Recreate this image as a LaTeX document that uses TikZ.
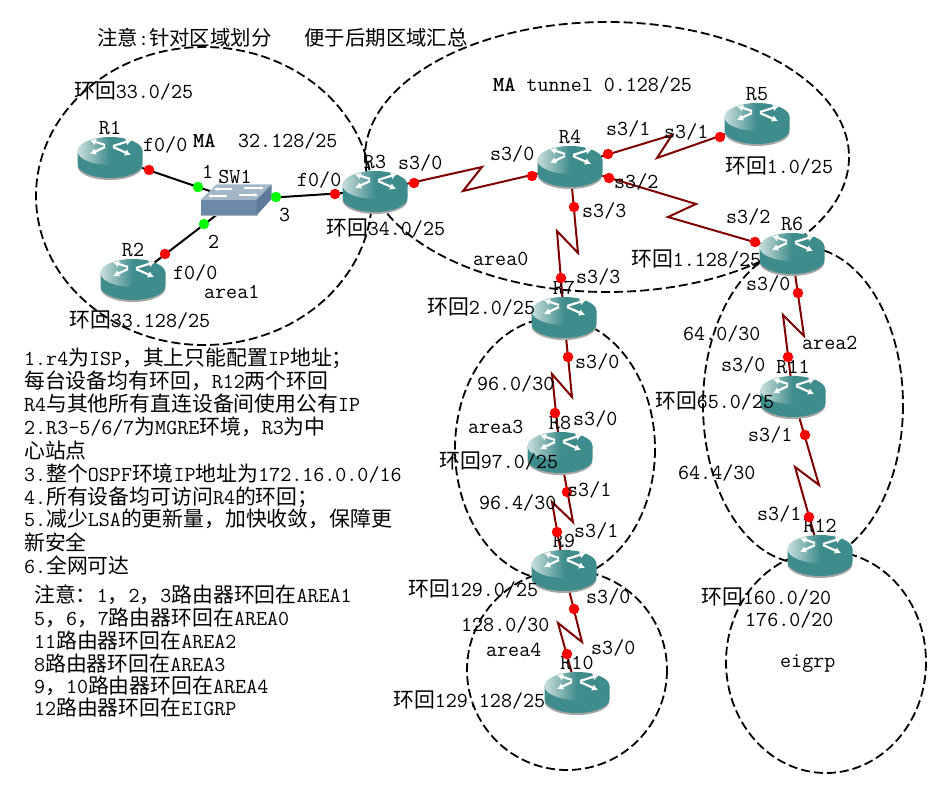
\documentclass[tikz,border=0pt]{standalone}
\usepackage{fontspec}
\newfontfamily\cjk{Noto Sans CJK SC}
\usetikzlibrary{backgrounds,arrows.meta}
\newcommand{\cn}[1]{{\cjk\fontsize{20.85}{22}\selectfont #1}}
\newcommand{\cntitle}[1]{{\cjk\fontsize{20.4}{22}\selectfont #1}}
\definecolor{routerteal}{HTML}{3E8C8B}
\definecolor{routerlight}{HTML}{C8DEDD}
\definecolor{linkred}{HTML}{800000}
\definecolor{switchfront}{HTML}{6C88AA}
\definecolor{switchtop}{HTML}{A3B7C9}
\definecolor{switchside}{HTML}{5F7A98}
\tikzset{
  lab/.style={anchor=west,inner sep=0pt,font=\ttfamily\fontsize{21.4}{22}\selectfont},
  lanlink/.style={line width=2pt,black},
  wanlink/.style={line width=2pt,linkred},
  area/.style={line width=1.8pt,dash pattern=on 9pt off 4pt},
  reddot/.style={circle,fill=red,inner sep=0pt,minimum size=10.5pt},
  greendot/.style={circle,fill=green,inner sep=0pt,minimum size=10.5pt},
  arr/.style={white,line width=2.2pt,-{Latex[length=6pt,width=7pt]}},
  router/.style={inner sep=0pt,minimum width=66pt,minimum height=45pt,path picture={
    \begin{scope}[shift={(path picture bounding box.center)}]
      \fill[black!35] (-32.5,9) arc[start angle=180,end angle=0,x radius=32.5,y radius=14] -- cycle;
      \fill[routerteal] (-32.5,-6) -- (-32.5,7) arc[start angle=180,end angle=0,x radius=32.5,y radius=14] -- (32.5,-6) -- cycle;
      \shade[left color=routerlight,right color=routerteal,middle color=routerteal] (0,-6) ellipse[x radius=32.5,y radius=14];
      \draw[arr] (-5,-12) -- (-20,-17);
      \draw[arr] (3,-11) -- (22,-17);
      \draw[arr] (-5,-10) -- (-20,-3);
      \draw[arr] (3,-10) -- (21,-2);
    \end{scope}}},
  switchbox/.style={inner sep=0pt,minimum width=72pt,minimum height=32pt,path picture={
    \begin{scope}[shift={(path picture bounding box.center)}]
      \fill[black!30] (-35.5,15.5) rectangle (21.5,16.5);
      \fill[switchtop] (-35.5,0) -- (-19.5,-15.5) -- (35.5,-15.5) -- (20.5,0) -- cycle;
      \fill[switchfront] (-35.5,0) rectangle (20.5,15.5);
      \fill[switchside] (20.5,0) -- (35.5,-15.5) -- (35.5,-1) -- (20.5,15.5) -- cycle;
      \draw[white,line width=1.4pt,-{Latex[length=3.5pt,width=4pt]}] (-4,-11) -- (-22,-11);
      \draw[white,line width=1.4pt,-{Latex[length=3.5pt,width=4pt]}] (-9,-4) -- (-28,-4);
      \draw[white,line width=1.4pt,-{Latex[length=3.5pt,width=4pt]}] (8,-12) -- (28,-12);
      \draw[white,line width=1.4pt,-{Latex[length=3.5pt,width=4pt]}] (3,-5) -- (22,-5);
    \end{scope}}}
}
\begin{document}
\begin{tikzpicture}[x=1pt,y=-1pt]
\path[use as bounding box] (0,0) rectangle (947,791);
\foreach \name/\x/\y in {R1/110/157,R2/133/279,R3/375/191,R4/570/166,R5/757/123,R6/792/253,R7/564/317,R8/560/452,R9/564/570,R10/577/692,R11/793/396,R12/820/555} {
  \node[router] (\name) at (\x,\y) {};
  \node[lab,anchor=center] (\name-txt) at (\x,\y-29) {\name};
}
\node[switchbox] (SW1) at (236,200) {};
\node[lab,anchor=center] (SW1-txt) at (235,177) {SW1};
\begin{scope}[on background layer]
  \fill[white] (0,0) rectangle (947,791);
  \draw[area] (204,196) ellipse[x radius=168,y radius=149];
  \draw[area] (607,157) ellipse[x radius=242,y radius=135];
  \draw[area] (555,449) ellipse[x radius=100,y radius=131];
  \draw[area] (803,405) ellipse[x radius=100,y radius=158];
  \draw[area] (567,670) ellipse[x radius=100,y radius=100];
  \draw[area] (826,662) ellipse[x radius=100,y radius=111];
  \draw[lanlink] (R1.center) -- (SW1.center);
  \draw[lanlink] (R2.center) -- (SW1.center);
  \draw[lanlink] (SW1.center) -- (R3.center);
  \draw[wanlink] (R3.center) -- (482,167) -- (463,191) -- (R4.center);
  \draw[wanlink] (R4.center) -- (672,135) -- (657,158) -- (R5.center);
  \draw[wanlink] (R4.center) -- (696,204) -- (668,217) -- (R6.center);
  \draw[wanlink] (R4.center) -- (578,253) -- (557,231) -- (R7.center);
  \draw[wanlink] (R6.center) -- (804,336) -- (783,315) -- (R11.center);
  \draw[wanlink] (R7.center) -- (572,397) -- (552,374) -- (R8.center);
  \draw[wanlink] (R8.center) -- (573,522) -- (552,502) -- (R9.center);
  \draw[wanlink] (R9.center) -- (582,642) -- (558,623) -- (R10.center);
  \draw[wanlink] (R11.center) -- (819,485) -- (795,467) -- (R12.center);
\end{scope}
\foreach \x/\y [count=\i] in {198/187,204/224,276/197} {
  \node[greendot] (g\i) at (\x,\y) {};
}
\foreach \x/\y [count=\i] in {149/170,165/254,335/194,414/183,532/176,608/154,720/137,609/178,755/242,574/207,561/278,798/293,788/357,568/357,555/413,567/492,557/532,574/609,567/654,805/435,809/517} {
  \node[reddot] (d\i) at (\x,\y) {};
}
\foreach \x/\y/\t [count=\i] in {
  97/38/{\cntitle{注意}:\cntitle{针对区域划分}\ \ \ \cntitle{便于后期区域汇总}},
  74/91/{\cn{环回}33.0/25},
  238/141/{32.128/25},
  493/85/{\textbf{MA} tunnel 0.128/25},
  193/141/{\textbf{MA}},
  143/145/{f0/0},
  202/172/{1},
  297/180/{f0/0},
  279/215/{3},
  208/242/{2},
  173/273/{f0/0},
  204/292/{area1},
  69/320/{\cn{环回}33.128/25},
  326/228/{\cn{环回}34.0/25},
  398/163/{s3/0},
  490/154/{s3/0},
  606/129/{s3/1},
  664/132/{s3/1},
  725/166/{\cn{环回}1.0/25},
  614/182/{s3/2},
  582/211/{s3/3},
  726/217/{s3/2},
  631/259/{\cn{环回}1.128/25},
  473/259/{area0},
  576/277/{s3/3},
  427/307/{\cn{环回}2.0/25},
  746/284/{s3/0},
  683/334/{64.0/30},
  802/343/{area2},
  721/365/{s3/0},
  655/401/{\cn{环回}65.0/25},
  748/435/{s3/1},
  678/473/{64.4/30},
  757/514/{s3/1},
  575/362/{s3/0},
  477/384/{96.0/30},
  573/419/{s3/0},
  468/427/{area3},
  439/461/{\cn{环回}97.0/25},
  567/490/{s3/1},
  479/503/{96.4/30},
  574/531/{s3/1},
  408/589/{\cn{环回}129.0/25},
  586/597/{s3/0},
  461/625/{128.0/30},
  591/648/{s3/0},
  486/650/{area4},
  393/700/{\cn{环回}129.128/25},
  701/597/{\cn{环回}160.0/20},
  745/620/{176.0/20},
  780/664/{eigrp},
  24/358/{1.r4\cn{为}ISP\cn{，其上只能配置}IP\cn{地址；}},
  24/381/{\cn{每台设备均有环回，}R12\cn{两个环回}},
  24/404/{R4\cn{与其他所有直连设备间使用公有}IP},
  24/427/{2.R3-5/6/7\cn{为}MGRE\cn{环境，}R3\cn{为中}},
  24/451/{\cn{心站点}},
  24/474/{3.\cn{整个}OSPF\cn{环境}IP\cn{地址为}172.16.0.0/16},
  24/497/{4.\cn{所有设备均可访问}R4\cn{的环回；}},
  24/519/{5.\cn{减少}LSA\cn{的更新量，加快收敛，保障更}},
  24/542/{\cn{新安全}},
  24/565/{6.\cn{全网可达}},
  34/595/{\cn{注意：}1\cn{，}2\cn{，}3\cn{路由器环回在}AREA1},
  34/618/{5\cn{，}6\cn{，}7\cn{路由器环回在}AREA0},
  34/641/{11\cn{路由器环回在}AREA2},
  34/664/{8\cn{路由器环回在}AREA3},
  34/686/{9\cn{，}10\cn{路由器环回在}AREA4},
  34/708/{12\cn{路由器环回在}EIGRP}} {
  \node[lab] (t\i) at (\x,\y) {\t};
}
\end{tikzpicture}
\end{document}
